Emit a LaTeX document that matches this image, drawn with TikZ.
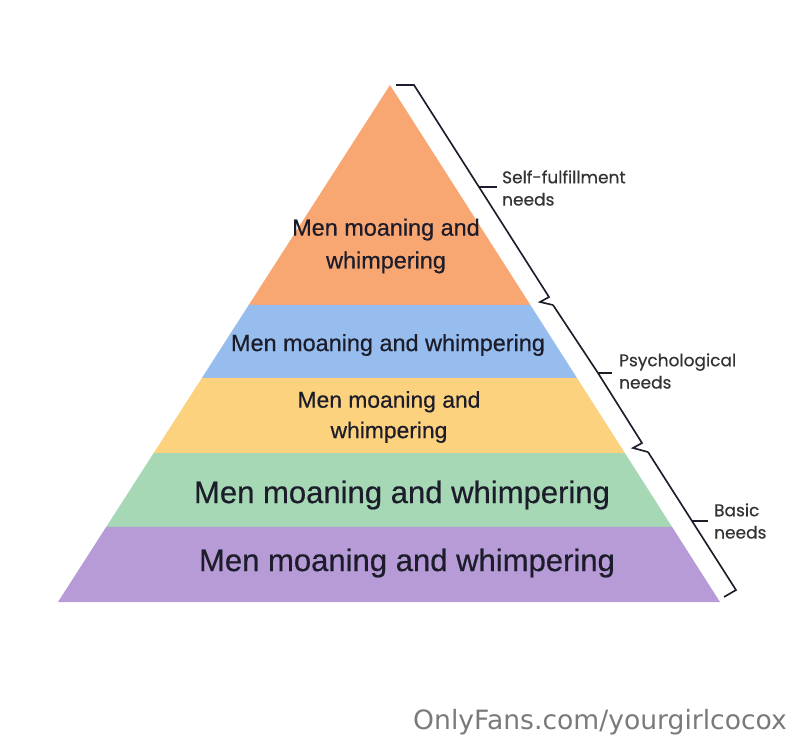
\documentclass[tikz,border=0pt]{standalone}
\usepackage{fontspec}
\usetikzlibrary{calc}
\newfontfamily\bandfont[FakeBold=0.5]{Liberation Sans}
\newfontfamily\needsfont[FakeBold=0.4]{Poppins}
\newfontfamily\markfont{DejaVu Sans}
\definecolor{peach}{HTML}{F8A672}
\definecolor{sky}{HTML}{96BDEE}
\definecolor{butter}{HTML}{FCD27E}
\definecolor{mint}{HTML}{A6D8B5}
\definecolor{lilac}{HTML}{B69BD6}
\definecolor{ink}{HTML}{1C1C2A}
\definecolor{muted}{HTML}{333333}
\definecolor{mark}{HTML}{7A7A7A}

\tikzset{
  bandtext/.style={font=\bandfont\fontsize{20}{28}\selectfont, text=ink, align=center},
  bigtext/.style={font=\bandfont\fontsize{26.5}{32}\selectfont, text=ink, align=center},
  needs/.style={font=\needsfont\fontsize{14.5}{19}\selectfont, text=muted, align=left, anchor=west},
  brace/.style={draw=ink, line width=1.4pt, line join=miter}
}

\begin{document}
\begin{tikzpicture}[x=0.03cm, y=-0.03cm]
  \useasboundingbox (0,0) rectangle (800,749);
  \coordinate (apex) at (390,85);
  \coordinate (bl) at (58,602);
  \coordinate (br) at (720,602);

  % the five bands
  \foreach \ta/\tb/\col in {0/0.4255/peach, 0.4255/0.5667/sky, 0.5667/0.7118/butter,
                            0.7118/0.8549/mint, 0.8549/1/lilac}
    \fill[\col] ($(apex)!\ta!(bl)$) -- ($(apex)!\tb!(bl)$)
      -- ($(apex)!\tb!(br)$) -- ($(apex)!\ta!(br)$) -- cycle;

  \node[bandtext] (top) at (386,246) {Men moaning and\\whimpering};
  \node[bandtext] (second) at (388,345) {Men moaning and whimpering};
  \node[bandtext, font=\bandfont\fontsize{19.5}{26}\selectfont] (third) at (389,417) {Men moaning and\\whimpering};
  \node[bigtext] (fourth) at (402,495) {Men moaning and whimpering};
  \node[bigtext] (base) at (407,563) {Men moaning and whimpering};

  % brackets on the right
  \draw[brace] (396,85) -- (414,85) -- (479,187) -- (549,297) -- (540,302) -- (553,305);
  \draw[brace] (553,305) -- (598,373) -- (642,443) -- (633,448) -- (648,452);
  \draw[brace] (648,452) -- (692,521) -- (736,590) -- (724,597);
  \draw[brace] (479,187) -- (497,187);
  \draw[brace] (598,373) -- (612,373);
  \draw[brace] (692,521) -- (708,521);

  \node[needs] (selfneeds) at (498,188) {Self-fulfillment\\needs};
  \node[needs] (psyneeds) at (615,371) {Psychological\\needs};
  \node[needs] (basicneeds) at (710,521) {Basic\\needs};

  \node[font=\markfont\fontsize{22.7}{26}\selectfont, text=mark, anchor=east] (watermark) at (791,722) {OnlyFans.com/yourgirlcocox};
\end{tikzpicture}
\end{document}
